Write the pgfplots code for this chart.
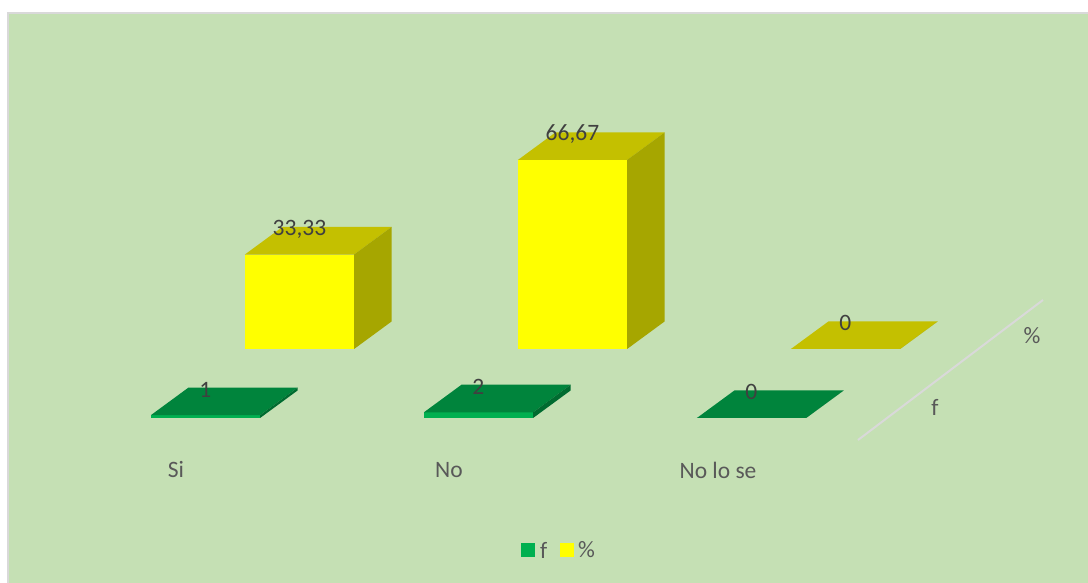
\documentclass[border=0pt]{standalone}
\usepackage{pgfplots}
\pgfplotsset{compat=1.18}
\usetikzlibrary{backgrounds}
\usepackage{fontspec}
\setmainfont{Carlito}
\definecolor{bg}{HTML}{C5E0B4}
\definecolor{gfront}{HTML}{00B050}
\definecolor{gtop}{HTML}{00843C}
\definecolor{gside}{HTML}{006B30}
\definecolor{yfront}{HTML}{FFFF00}
\definecolor{ytop}{HTML}{C4C000}
\definecolor{yside}{HTML}{A6A600}
\definecolor{txt}{HTML}{595959}
\definecolor{vtxt}{HTML}{404040}
\definecolor{edge}{HTML}{D9D9D9}
% #1 category, #2 row (series depth), #3 value, #4 front, #5 top, #6 side colour
\newcommand{\cube}[6]{%
  \pgfmathsetmacro\xl{#1-0.2}\pgfmathsetmacro\xr{#1+0.2}\pgfmathsetmacro\rb{#2+0.4}%
  \addplot3[fill=#4,draw=none,forget plot] coordinates {(\xl,#2,0) (\xr,#2,0) (\xr,#2,#3) (\xl,#2,#3)} -- cycle;
  \addplot3[fill=#5,draw=none,forget plot] coordinates {(\xl,#2,#3) (\xr,#2,#3) (\xr,\rb,#3) (\xl,\rb,#3)} -- cycle;
  \addplot3[fill=#6,draw=none,forget plot] coordinates {(\xr,#2,0) (\xr,\rb,0) (\xr,\rb,#3) (\xr,#2,#3)} -- cycle;
}
\begin{document}
\begin{tikzpicture}[x=1pt,y=1pt,font=\fontsize{23.5}{28}\selectfont,every node/.style={text=txt,inner sep=0pt}]
\begin{axis}[
  x={(273pt,0pt)}, y={(94pt,69pt)}, z={(0pt,2.835pt)},
  hide axis, clip=false,
  xmin=-0.3, xmax=2.3, ymin=0, ymax=1.4, zmin=0, zmax=70]
% series "%" (back row)
\cube{0}{1}{33.33}{yfront}{ytop}{yside}
\cube{1}{1}{66.67}{yfront}{ytop}{yside}
\cube{2}{1}{0}{yfront}{ytop}{yside}
% series "f" (front row)
\cube{0}{0}{1}{gfront}{gtop}{gside}
\cube{1}{0}{2}{gfront}{gtop}{gside}
\cube{2}{0}{0}{gfront}{gtop}{gside}
% value labels
\node[yshift=-2pt,text=vtxt] at (axis cs:-0.138,1.4,33.33) {33,33};
\node[yshift=-2pt,text=vtxt] at (axis cs:0.862,1.4,66.67) {66,67};
\node[yshift=-2pt,text=vtxt] at (axis cs:1.862,1.4,0) {0};
\node[yshift=-2pt,text=vtxt] at (axis cs:-0.138,0.4,1) {1};
\node[yshift=-2pt,text=vtxt] at (axis cs:0.862,0.4,2) {2};
\node[yshift=-2pt,text=vtxt] at (axis cs:1.862,0.4,0) {0};
\coordinate (O) at (axis cs:0,0,0);
\end{axis}
\begin{scope}[shift={(O)},xshift=-205.5pt,yshift=-165pt]
\useasboundingbox (0,0) rectangle (1088,583);
\begin{scope}[on background layer]
\fill[white] (0,0) rectangle (1088,583);
\fill[bg] (8,0) rectangle (1088,570);
\draw[edge,line width=1.5pt] (8,0) -- (8,570) -- (1088,570);
\end{scope}
% series (depth) axis
\draw[edge,line width=2pt] (858,143) -- (1043,283);
\node at (935,176) {f};
\node at (1032,247) {\%};
% category labels
\node at (176,113) {Si};
\node at (449,113) {No};
\node at (718,113) {No lo se};
% legend
\fill[gfront] (521,26) rectangle (535,40);
\node[anchor=west] at (540,33) {f};
\fill[yfront] (560,26) rectangle (574,40);
\node[anchor=west] at (578,33) {\%};
\end{scope}
\end{tikzpicture}
\end{document}
